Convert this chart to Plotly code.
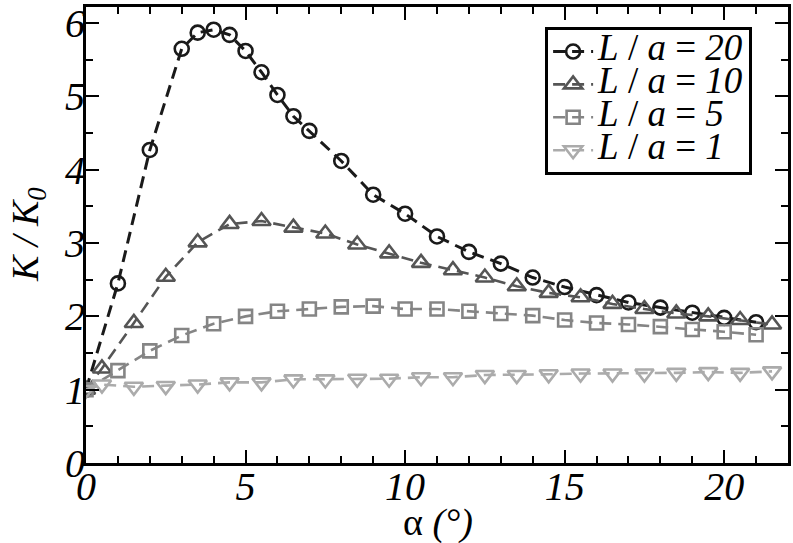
import plotly.graph_objects as go

# L/a = 20
x20 = [0, 1, 2, 3, 3.5, 4, 4.5, 5, 5.5, 6, 6.5, 7, 8, 9, 10, 11, 12, 13, 14, 15, 16, 17, 18, 19, 20, 21]
y20 = [1.0, 2.45, 4.27, 5.65, 5.87, 5.91, 5.84, 5.62, 5.33, 5.02, 4.73, 4.53, 4.12, 3.66, 3.40, 3.09,
       2.88, 2.72, 2.53, 2.40, 2.29, 2.19, 2.12, 2.05, 1.98, 1.92]
# L/a = 10
x10 = [0, 0.5, 1.5, 2.5, 3.5, 4.5, 5.5, 6.5, 7.5, 8.5, 9.5, 10.5, 11.5, 12.5, 13.5, 14.5, 15.5, 16.5,
       17.5, 18.5, 19.5, 20.5, 21.5]
y10 = [1.0, 1.29, 1.91, 2.54, 3.01, 3.26, 3.30, 3.21, 3.13, 2.98, 2.86, 2.73, 2.63, 2.53, 2.41, 2.32,
       2.26, 2.17, 2.10, 2.04, 2.00, 1.95, 1.89]
# L/a = 5
x5 = [0, 1, 2, 3, 4, 5, 6, 7, 8, 9, 10, 11, 12, 13, 14, 15, 16, 17, 18, 19, 20, 21]
y5 = [1.0, 1.26, 1.53, 1.74, 1.90, 2.00, 2.07, 2.10, 2.13, 2.14, 2.10, 2.10, 2.07, 2.04, 2.01, 1.95,
      1.91, 1.89, 1.86, 1.82, 1.79, 1.75]
# L/a = 1
x1 = [0, 0.5, 1.5, 2.5, 3.5, 4.5, 5.5, 6.5, 7.5, 8.5, 9.5, 10.5, 11.5, 12.5, 13.5, 14.5, 15.5, 16.5,
      17.5, 18.5, 19.5, 20.5, 21.5]
y1 = [1.0, 1.07, 1.04, 1.05, 1.07, 1.10, 1.10, 1.14, 1.14, 1.15, 1.15, 1.17, 1.17, 1.20, 1.20, 1.21,
      1.22, 1.22, 1.22, 1.23, 1.24, 1.23, 1.25]

series = [
    (x20, y20, "20", "#1a1a1a", "circle-open", 14, 3),
    (x10, y10, "10", "#555555", "triangle-up-open", 16, 2.6),
    (x5, y5, "5", "#858585", "square-open", 13, 2.6),
    (x1, y1, "1", "#ababab", "triangle-down-open", 16, 2.6),
]

SERIF = "Liberation Serif, Times New Roman, serif"
fig = go.Figure()
for xs, ys, lab, col, sym, msize, lw in series:
    fig.add_trace(go.Scatter(
        x=xs, y=ys, mode="lines+markers",
        name=(f'<span style="font-size:37px"><i>L</i> / <i>a</i> = <i>{lab}</i></span>'),
        line=dict(color=col, width=lw, dash="12px,7px"),
        marker=dict(symbol=sym, size=msize, color=col, line=dict(color=col, width=2.6)),
    ))

axis_common = dict(
    showline=True, linecolor="black", linewidth=3, mirror="ticks",
    ticks="inside", ticklen=13, tickwidth=2, tickcolor="black",
    showgrid=False, zeroline=False, automargin=False,
    tickfont=dict(family=SERIF, size=40, color="black", style="italic"),
)

fig.update_layout(
    width=793, height=543,
    margin=dict(l=86, r=5, t=7, b=80),
    paper_bgcolor="white", plot_bgcolor="white",
    xaxis=dict(range=[0, 22], tick0=0, dtick=5,
               minor=dict(dtick=1, ticklen=7, tickwidth=2, ticks="inside", tickcolor="black"),
               ticklabelstandoff=-14,
               **axis_common),
    yaxis=dict(range=[0, 6.22], tick0=0, dtick=1,
               minor=dict(dtick=0.5, ticklen=7, tickwidth=2, ticks="inside", tickcolor="black"),
               ticklabelstandoff=-10,
               **axis_common),
    legend=dict(x=0.654, y=0.956, xanchor="left", yanchor="top",
                bgcolor="white", bordercolor="black", borderwidth=3,
                font=dict(family=SERIF, size=23, color="black"),
                itemwidth=40, tracegroupgap=0),
    showlegend=True,
    annotations=[
        dict(text="α <i>(°)</i>", xref="paper", yref="paper", x=0.501, y=-0.131,
             xanchor="center", yanchor="middle", showarrow=False,
             font=dict(family=SERIF, size=38, color="black")),
        dict(text="<i>K / K</i><sub><i>0</i></sub>", xref="paper", yref="paper", x=-0.0826, y=0.50,
             xanchor="center", yanchor="middle", showarrow=False, textangle=-90,
             font=dict(family=SERIF, size=38, color="black")),
    ],
)

fig.write_html("out.html", config={"displayModeBar": False},
               post_script="document.body.style.margin='0';document.body.style.overflow='hidden';")
